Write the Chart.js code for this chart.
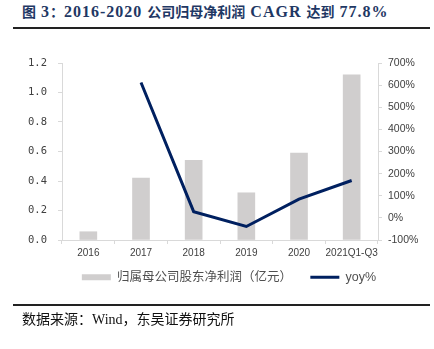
<!DOCTYPE html>
<html lang="zh">
<head>
  <meta charset="UTF-8" />
  <title>图 3：2016-2020 公司归母净利润 CAGR 达到 77.8%</title>
  <script src="https://cdn.jsdelivr.net/npm/chart.js"></script>
  <style>
    * { margin: 0; padding: 0; box-sizing: border-box; }
    body { width: 434px; height: 349px; background: #fff; position: relative; overflow: hidden; }
    #title {
      position: absolute; left: 22px; top: 1px;
      font-family: 'Liberation Serif', 'Noto Sans CJK SC', serif;
      font-weight: bold; font-size: 16px; color: #1f3864; white-space: nowrap;
      line-height: 22px; letter-spacing: 1px;
    }
    #title .cjk { font-size: 14px; letter-spacing: 0; }
    .rule { position: absolute; left: 13px; width: 417px; height: 2px; background: #222; }
    #footer {
      position: absolute; left: 22px; top: 310px;
      font-family: 'Liberation Serif', 'Noto Sans CJK SC', serif;
      font-size: 14px; color: #111; white-space: nowrap; line-height: 20px;
    }
    .chart-box { position: absolute; left: 0; top: 0; width: 434px; height: 349px; }
  </style>
</head>
<body>
  <div id="title"><span class="cjk">图</span> 3<span class="cjk">：</span>2016-2020 <span class="cjk">公司归母净利润</span> CAGR <span class="cjk">达到</span> 77.8%</div>
  <div class="rule" style="top:27px"></div>

  <div class="chart-box">
    <canvas id="profitChart" width="434" height="349"></canvas>
  </div>

  <div class="rule" style="top:304px"></div>
  <div id="footer">数据来源：Wind，东吴证券研究所</div>

  <script>
    // data
    const years = ['2016', '2017', '2018', '2019', '2020', '2021Q1-Q3'];
    const netProfit = [0.056, 0.42, 0.54, 0.32, 0.59, 1.12];   // 亿元
    const yoy = [null, 612, 28, -39, 85, 169];                  // %
    const leftTicks = [0, 0.2, 0.4, 0.6, 0.8, 1.0, 1.2];
    const rightTicks = [-100, 0, 100, 200, 300, 400, 500, 600, 700];

    const axisGrey = '#d9d9d9';
    const labelGrey = '#404040';

    const sideGrid = {
      display: true,
      drawOnChartArea: false,
      drawTicks: true,
      tickLength: 4,
      color: axisGrey
    };

    new Chart(document.getElementById('profitChart'), {
      type: 'bar',
      data: {
        labels: years,
        datasets: [
          {
            label: '归属母公司股东净利润（亿元）',
            data: netProfit,
            backgroundColor: '#d0cece',
            barThickness: 17,
            pointStyle: 'rect',
            yAxisID: 'y',
            order: 1
          },
          {
            type: 'line',
            label: 'yoy%',
            data: yoy,
            borderColor: '#002060',
            backgroundColor: '#002060',
            borderWidth: 3,
            pointRadius: 0,
            pointStyle: 'line',
            tension: 0,
            yAxisID: 'y1',
            order: 0
          }
        ]
      },
      options: {
        responsive: false,
        animation: false,
        layout: { padding: { left: 24, right: 0, top: 63, bottom: 55.5 } },
        plugins: {
          tooltip: { enabled: false },
          legend: {
            position: 'bottom',
            labels: {
              usePointStyle: true,
              pointStyleWidth: 29,
              boxHeight: 6,
              padding: 12,
              color: '#505050',
              font: { family: "'Liberation Sans', 'Noto Sans CJK SC'", size: 12.5 },
              sort: (a, b) => a.datasetIndex - b.datasetIndex,
              // widen the gap after the first entry, like the Excel legend
              generateLabels: chart => {
                const items = Chart.defaults.plugins.legend.labels.generateLabels(chart);
                items.forEach(it => { if (it.datasetIndex === 0) it.text += '\u3000'; });
                return items;
              }
            }
          }
        },
        scales: {
          x: {
            grid: { ...sideGrid, offset: true },
            border: { color: axisGrey },
            ticks: {
              color: labelGrey,
              padding: 3,
              maxRotation: 0,
              autoSkip: false,
              font: { family: "'Liberation Sans'", size: 10 }
            },
            afterFit: s => { s.height = 19; }
          },
          y: {
            position: 'left',
            min: 0,
            max: 1.2,
            grid: sideGrid,
            border: { color: axisGrey },
            afterBuildTicks: s => { s.ticks = leftTicks.map(v => ({ value: v })); },
            ticks: {
              color: labelGrey,
              padding: 11,
              font: { family: "'DejaVu Sans Mono'", size: 10.5 },
              callback: v => v.toFixed(1)
            },
            afterFit: s => { s.width = 62 - 24; }
          },
          y1: {
            position: 'right',
            min: -100,
            max: 700,
            grid: sideGrid,
            border: { color: axisGrey },
            afterBuildTicks: s => { s.ticks = rightTicks.map(v => ({ value: v })); },
            ticks: {
              color: labelGrey,
              padding: 6,
              font: { family: "'Liberation Sans'", size: 10.5 },
              callback: v => v + '%'
            },
            afterFit: s => { s.width = 434 - 378; }
          }
        }
      }
    });
  </script>
</body>
</html>
